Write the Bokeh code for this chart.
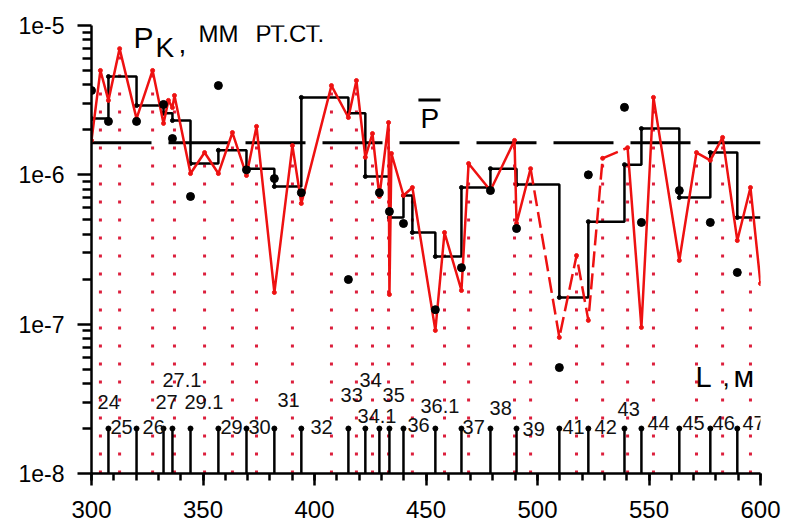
import numpy as np
from bokeh.plotting import figure
from bokeh.models import FixedTicker, CustomJSTickFormatter, Label, Range1d
from bokeh.core.properties import value
from bokeh.embed import file_html
from bokeh.resources import INLINE

FONT = "Liberation Sans"

# Pressure profile along the pipeline: distance L (m) and pressure P (mm Hg)
red_x = [300.0, 304.0, 307.6, 312.6, 320.2, 327.4, 332.3, 334.5, 336.3, 337.2,
         344.4, 350.7, 356.9, 363.2, 369.5, 374.0, 382.0, 390.1, 394.1, 407.6,
         415.2, 418.8, 422.8, 426.0, 429.1, 433.2, 433.6, 434.5, 439.9, 443.9,
         454.2, 458.3, 465.9, 469.1, 478.9, 489.7, 490.6, 496.9, 509.8, 517.5,
         522.8, 529.2, 540.4, 546.6, 552.0, 563.6, 571.3, 577.5, 583.0, 589.6,
         595.5, 600.0]
red_y = [1.70e-6, 5.00e-6, 3.15e-6, 7.00e-6, 2.38e-6, 5.00e-6, 2.21e-6, 3.15e-6, 2.82e-6, 3.40e-6,
         1.02e-6, 1.41e-6, 1.02e-6, 1.92e-6, 9.90e-7, 2.11e-6, 1.63e-7, 1.57e-6, 6.43e-7, 3.96e-6,
         2.42e-6, 4.28e-6, 1.31e-6, 1.89e-6, 7.16e-7, 2.24e-6, 1.58e-7, 1.39e-6, 7.27e-7, 8.22e-7,
         9.08e-8, 4.11e-7, 1.68e-7, 1.19e-6, 7.85e-7, 1.70e-6, 4.72e-7, 1.10e-6, 8.15e-8, 2.88e-7,
         1.06e-7, 1.29e-6, 1.52e-6, 9.51e-8, 3.30e-6, 2.67e-7, 1.41e-6, 1.25e-6, 1.78e-6, 3.63e-7,
         8.22e-7, 1.87e-7]
# stretch of the profile that is only estimated (drawn dashed)
red_dashed_from, red_dashed_to = 496.9, 540.4

# peaks of the profile carrying a dotted drop line
peak_x = [304.0, 312.6, 327.4, 337.2, 350.7, 363.2, 374.0, 390.1, 407.6, 418.8,
          426.0, 433.2, 443.9, 458.3, 469.1, 489.7, 496.9, 517.5, 529.2, 540.4,
          552.0, 571.3, 583.0, 595.5]

# point measurements
dot_x = [300.0, 307.6, 320.2, 332.3, 336.3, 344.4, 356.9, 369.5, 382.0, 394.1,
         415.2, 429.1, 433.6, 439.9, 454.2, 465.9, 478.9, 490.6, 509.8, 522.8,
         539.0, 546.6, 563.6, 577.5, 589.6]
dot_y = [3.67e-6, 2.28e-6, 2.28e-6, 2.96e-6, 1.75e-6, 7.16e-7, 3.96e-6, 1.08e-6, 9.44e-7, 7.60e-7,
         1.99e-7, 7.60e-7, 5.68e-7, 4.72e-7, 1.25e-7, 2.39e-7, 7.85e-7, 4.37e-7, 5.12e-8, 1.00e-6,
         2.83e-6, 4.80e-7, 7.85e-7, 4.80e-7, 2.22e-7]

# section averages between stations
step_edges = [300.0, 307.6, 320.2, 332.3, 336.3, 344.4, 356.9, 369.5, 382.0, 394.1,
              415.2, 422.8, 433.6, 439.9, 443.9, 454.2, 465.9, 478.9, 490.6, 509.8,
              522.8, 539.0, 546.6, 563.6, 577.5, 589.6, 600.0]
step_levels = [2.38e-6, 4.55e-6, 2.91e-6, 2.58e-6, 2.31e-6, 1.19e-6, 1.46e-6, 1.10e-6, 8.35e-7, 3.30e-6,
               2.58e-6, 9.75e-7, 5.18e-7, 7.26e-7, 4.11e-7, 2.84e-7, 8.22e-7, 1.10e-6, 8.61e-7, 1.51e-7,
               4.86e-7, 1.17e-6, 2.04e-6, 7.05e-7, 1.41e-6, 5.18e-7]

# overall mean pressure
mean_p = 1.64e-6

# station markers and their numbers
stem_x = [307.6, 320.2, 332.3, 336.3, 344.4, 356.9, 369.5, 382.0, 394.1, 415.2,
          422.8, 429.1, 433.6, 439.9, 454.2, 465.9, 478.9, 490.6, 509.8, 522.8,
          539.0, 546.6, 563.6, 577.5, 589.6]
stem_base, stem_top = 1e-8, 2e-8
station_names = ["24", "25", "26", "27", "27.1", "29.1", "29", "30", "31", "32",
                 "33", "34", "34.1", "35", "36", "36.1", "37", "38", "39", "41",
                 "42", "43", "44", "45", "46", "47"]
station_lx = [302.7, 308.5, 322.9, 328.7, 331.8, 341.7, 357.8, 370.4, 383.4, 398.2,
              411.7, 420.2, 419.3, 430.5, 441.7, 447.5, 466.4, 478.5, 493.3, 511.2,
              525.6, 535.9, 549.3, 565.0, 578.5, 591.9]
station_ly = [3.0e-8, 2.06e-8, 2.06e-8, 3.0e-8, 4.2e-8, 3.0e-8, 2.06e-8, 2.06e-8, 3.1e-8, 2.06e-8,
              3.33e-8, 4.2e-8, 2.44e-8, 3.33e-8, 2.1e-8, 2.81e-8, 2.06e-8, 2.75e-8, 2.0e-8, 2.06e-8,
              2.06e-8, 2.72e-8, 2.19e-8, 2.19e-8, 2.19e-8, 2.19e-8]

x_major = [300, 350, 400, 450, 500, 550, 600]
x_minor = list(range(300, 601, 10))
y_major = [1e-8, 1e-7, 1e-6, 1e-5]
y_minor = [k * 10.0 ** e for e in (-8, -7, -6) for k in range(2, 10)]

W = 785
LEFT, RIGHT, TOP = 91, 25, 25
FRAME_H = 448
TICK_STRIP = 16      # room under the frame for the tick marks
NUM_STRIP = 33       # strip carrying the distance numbers

p = figure(width=W, height=TOP + FRAME_H + TICK_STRIP,
           x_range=Range1d(300, 600), y_range=Range1d(1e-8, 1e-5),
           y_axis_type="log", output_backend="svg", toolbar_location=None,
           min_border_left=LEFT, min_border_right=RIGHT, min_border_top=TOP,
           min_border_bottom=TICK_STRIP)
p.xgrid.visible = False
p.ygrid.visible = False
p.outline_line_color = None
p.background_fill_color = "white"
p.border_fill_color = "white"

for ax in (p.xaxis[0], p.yaxis[0]):
    ax.axis_line_width = 2.5
    ax.major_tick_line_width = 2.5
    ax.minor_tick_line_width = 2.5
    ax.major_tick_in = 0
    ax.minor_tick_in = 0
    ax.major_label_text_font = FONT
    ax.major_label_text_font_size = "23px"
    ax.major_label_text_color = "black"

p.xaxis.ticker = FixedTicker(ticks=x_major, minor_ticks=x_minor)
p.xaxis.major_tick_out = 12
p.xaxis.minor_tick_out = 7
p.xaxis.major_label_text_color = None   # numbers go in the strip below

p.yaxis.ticker = FixedTicker(ticks=y_major, minor_ticks=y_minor)
p.yaxis.formatter = CustomJSTickFormatter(code="return tick.toExponential(0);")
p.yaxis.major_tick_out = 14
p.yaxis.minor_tick_out = 9
p.yaxis.major_label_standoff = 13

# dotted drop lines under the profile peaks
top_of = dict(zip(red_x, red_y))
p.segment(x0=peak_x, y0=[stem_base] * len(peak_x), x1=peak_x, y1=[top_of[x] for x in peak_x],
          line_color="#dc1f3c", line_width=3, line_dash="3 15")

# mean pressure line
p.line([300, 600], [mean_p, mean_p], line_color="black", line_width=3, line_dash="60 17")

# section averages
p.step(x=step_edges, y=step_levels + [step_levels[-1]], mode="after",
       line_color="black", line_width=2.5)
p.scatter(step_edges[:-1], step_levels, size=4, color="black")

# pressure profile
rx = np.array(red_x)
ry = np.array(red_y)
solid_y = np.where((rx > red_dashed_from) & (rx < red_dashed_to), np.nan, ry)
dash_mask = (rx >= red_dashed_from) & (rx <= red_dashed_to)
p.line(rx, solid_y, line_color="#ee1111", line_width=2.5)
p.line(rx[dash_mask], ry[dash_mask], line_color="#ee1111", line_width=2.5, line_dash="16 6")
p.scatter(rx, ry, size=4, color="#ee1111")

# point measurements
p.scatter(dot_x, dot_y, size=8, color="black")

# stations
p.segment(x0=stem_x, y0=[stem_base] * len(stem_x), x1=stem_x, y1=[stem_top] * len(stem_x),
          line_color="black", line_width=2.5)
p.scatter(stem_x, [stem_top] * len(stem_x), size=5, color="black")
p.text(x=station_lx, y=station_ly, text=station_names, text_font=value(FONT),
       text_font_size="20px", text_baseline="middle", text_align="left", text_color="#111111")

# axis captions
def caption(x, y, text, size):
    p.add_layout(Label(x=x, y=y, text=text, text_font=FONT, text_font_size=size,
                       text_baseline="alphabetic", text_align="left", text_color="black"))

caption(318.8, 8.25e-6, "P", "30px")
caption(328.7, 7.07e-6, "K", "28px")
caption(339.0, 7.57e-6, ",", "28px")
caption(348.0, 8.88e-6, "ММ", "24px")
caption(373.5, 8.88e-6, "РТ.СТ.", "24px")
caption(447.5, 2.38e-6, "P", "28px")
p.segment(x0=[446.6], y0=[3.17e-6], x1=[456.5], y1=[3.17e-6], line_color="black", line_width=3)
caption(570.9, 4.46e-8, "L", "29px")
caption(583.0, 4.46e-8, ",", "26px")
caption(587.9, 4.46e-8, "м", "30px")

# strip with the distance numbers, on the same horizontal scale as the plot
per_px = (600 - 300) / (W - LEFT - RIGHT)
q = figure(width=W, height=NUM_STRIP,
           x_range=Range1d(300 - LEFT * per_px, 600 + RIGHT * per_px), y_range=Range1d(0, NUM_STRIP),
           output_backend="svg", toolbar_location=None,
           x_axis_location=None, y_axis_location=None,
           min_border_left=0, min_border_right=0, min_border_top=0, min_border_bottom=0)
q.xgrid.visible = False
q.ygrid.visible = False
q.outline_line_color = None
q.background_fill_color = "white"
q.border_fill_color = "white"
q.text(x=x_major, y=[13] * len(x_major), text=[str(v) for v in x_major],
       text_font=value(FONT), text_font_size="24px", text_align="center",
       text_baseline="middle", text_color="black")

open("out.html", "w").write(file_html([p, q], INLINE))
